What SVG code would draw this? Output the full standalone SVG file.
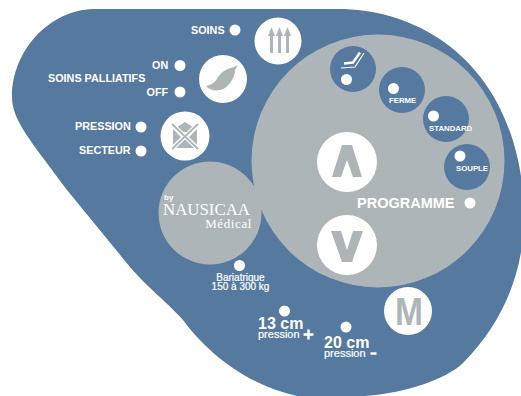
<svg xmlns="http://www.w3.org/2000/svg" width="521" height="396" viewBox="0 0 521 396">
<style>
text{font-family:"Liberation Sans",Arial,sans-serif;fill:#fff}
.b{font-weight:700;font-size:10.800px}
.s{font-weight:700;font-size:7.800px}
.l{font-weight:700;font-size:16px}
.p{font-weight:400;font-size:11px;stroke:#fff;stroke-width:.2px}
.t{font-weight:400;font-size:10px;text-anchor:middle;stroke:#fff;stroke-width:.2px}
.d{fill:#fff}
.g{fill:#adb5b9}
.k{fill:#55799f}
.w{fill:#fff}
</style>
<rect width="521" height="396" fill="#fff"/>
<path id="panel" class="k" d="M93 9H335C415 8 495 55 518 160C532 225 525 300 463 363C445 380 405 393 365 396H297C245 385 205 350 183 320C165 300 150 290 130 267L67 190C30 140 12 120 12 97C12 50 50 10 93 9Z"/>
<g id="programme">
<circle class="g" cx="378" cy="161" r="126.500"/>
<text x="357" y="208" style="font-size:14.500px;font-weight:700">PROGRAMME</text><circle class="d" cx="470" cy="203" r="5.500"/>
</g>
<g id="chair"><circle class="k" cx="353" cy="69" r="23"/><path d="M341 68l14-1 9-14" fill="none" stroke="#fff" stroke-width="1.200"/><path d="M344 63.500l9-1 7-10" fill="none" stroke="#fff" stroke-width="2.400"/><circle class="d" cx="346.500" cy="79.500" r="5.500"/></g>
<g id="ferme"><circle class="k" cx="402" cy="90" r="23"/><circle class="d" cx="393.500" cy="88.500" r="5.500"/><text class="s" x="389" y="103">FERME</text></g>
<g id="standard"><circle class="k" cx="446" cy="119" r="23"/><circle class="d" cx="433.500" cy="116" r="5.500"/><text class="s" x="429" y="131">STANDARD</text></g>
<g id="souple"><circle class="k" cx="467" cy="167" r="23"/><circle class="d" cx="460" cy="156" r="5.500"/><text class="s" x="456" y="171">SOUPLE</text></g>
<g id="up"><circle class="w" cx="347" cy="162" r="30"/><path class="g" d="M342 145h10l10 32h-9l-6-17-6 17h-9z"/></g>
<g id="down"><circle class="w" cx="347" cy="245" r="30"/><path class="g" d="M331 231h10l6 19 6-19h10l-11 31h-10z"/></g>
<g id="mode"><circle class="w" cx="408" cy="311" r="24"/><text x="395" y="325" textLength="28" lengthAdjust="spacingAndGlyphs" style="font-weight:700;font-size:39px;fill:#adb5b9">M</text></g>
<g id="soins"><text class="b" x="191" y="34">SOINS</text><circle class="d" cx="235" cy="30" r="5.500"/>
<circle class="w" cx="278" cy="41" r="23.500"/><path class="g" d="M270 53V36h-2l3.500-9 3.500 9h-2v17zM278 53V36h-2l3.500-9 3.500 9h-2v17zM286 53V36h-2l3.500-9 3.500 9h-2v17z"/></g>
<g id="palliatifs"><text class="b" x="152" y="69">ON</text><circle class="d" cx="180" cy="65.500" r="5.500"/><text class="b" x="48" y="82">SOINS PALLIATIFS</text><text class="b" x="146.500" y="96">OFF</text><circle class="d" cx="180" cy="92" r="5.500"/>
<circle class="w" cx="223" cy="79" r="24"/><path class="g" d="M206 86c5-1 9-3 12-9 4-6 9-8 16-10l4-2-3 5c0 6-4 14-10 18-6 4-15 3-19-2z"/></g>
<g id="pression"><text class="b" x="75" y="130">PRESSION</text><circle class="d" cx="141" cy="127" r="5.500"/><text class="b" x="79" y="154">SECTEUR</text><circle class="d" cx="141" cy="151" r="5.500"/>
<circle class="w" cx="185" cy="136" r="24.500"/><path class="g" d="M177 127l8-5 8 5-3 5h-10zM173 129v16l8-8zM197 129v16l-8-8zM175 148h20l-10-9z"/><path d="M172 124l26 25M198 124l-26 25" stroke="#fff" stroke-width="4" fill="none"/><path d="M172 124l26 25M198 124l-26 25" stroke="#adb5b9" stroke-width="1.800" fill="none"/></g>
<g id="logo"><circle class="g" cx="210" cy="213" r="51.500"/><text x="164" y="200" style="font-size:8px;font-weight:700">by</text><text x="163" y="215" textLength="87" lengthAdjust="spacingAndGlyphs" style="font-family:'Liberation Serif';font-size:17px">NAUSICAA</text><text x="252" y="228" text-anchor="end" style="font-family:'Liberation Serif';font-size:13px;letter-spacing:.6px">Médical</text></g>
<g id="bariatrique"><circle class="d" cx="239.500" cy="265.500" r="5.500"/><text class="t" x="240.500" y="281">Bariatrique</text><text class="t" x="240.500" y="290">150 à 300 kg</text></g>
<g id="p13"><circle class="d" cx="284.500" cy="311" r="5.500"/><text class="l" x="258" y="329">13 cm</text><text class="p" x="258" y="337.500">pression</text><path d="M303.500 334.500h10M308.500 329.500v10" stroke="#fff" stroke-width="2.500"/></g>
<g id="p20"><circle class="d" cx="346" cy="327" r="5.500"/><text class="l" x="324" y="348">20 cm</text><text class="p" x="324" y="356.500">pression</text><path d="M370.500 353.500h6" stroke="#fff" stroke-width="2.500"/></g>
</svg>
